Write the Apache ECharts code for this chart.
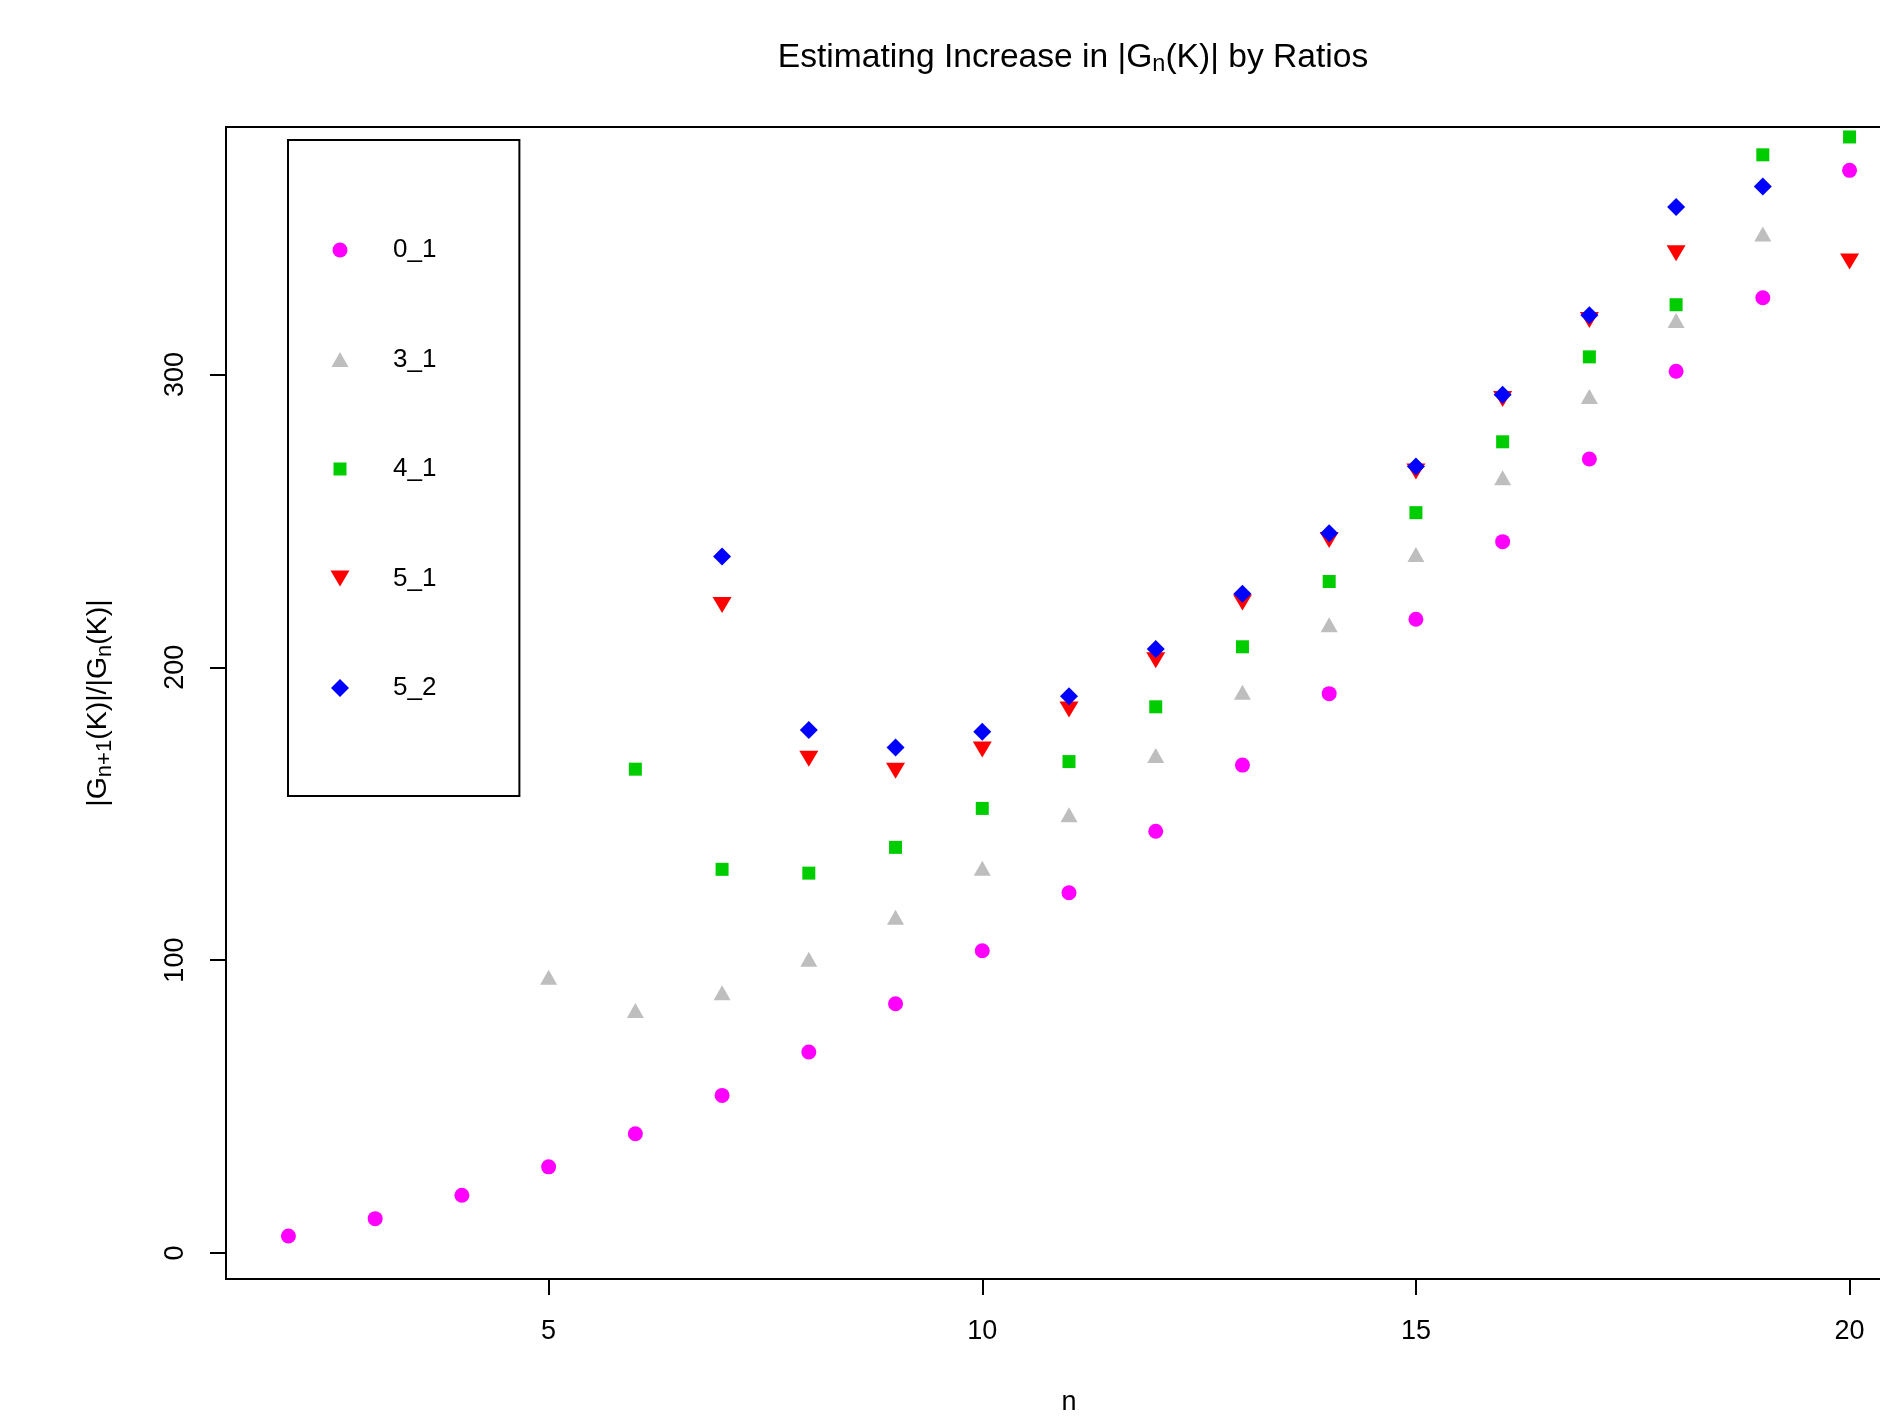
<!DOCTYPE html>
<html>
<head>
<title>Estimating Increase in |Gn(K)| by Ratios</title>
<meta charset="UTF-8">
<script src="https://cdn.jsdelivr.net/npm/echarts@6/dist/echarts.min.js"></script>
<style>
html, body { margin: 0; padding: 0; background: #fff; }
#chart { width: 1880px; height: 1418px; }
</style>
</head>
<body>
<div id="chart"></div>
<script>
// n = 2..20, one value per n (null = not plotted)
var nValues = [2, 3, 4, 5, 6, 7, 8, 9, 10, 11, 12, 13, 14, 15, 16, 17, 18, 19, 20];
var knot01 = [5.8, 11.7, 19.7, 29.4, 40.7, 53.8, 68.6, 85.1, 103.2, 123, 144, 166.6, 191, 216.4, 242.9, 271.1, 301.1, 326.2, 369.7];
var knot31 = [null, null, null, 93.3, 81.9, 88, 99.4, 113.8, 130.5, 148.8, 169, 190.6, 213.7, 237.7, 263.9, 291.6, 317.6, 347.1, null];
var knot41 = [null, null, null, null, 165.2, 131, 129.7, 138.5, 151.8, 167.8, 186.5, 207, 229.3, 252.8, 277, 306, 323.8, 375, 381.1];
var knot51 = [null, null, null, null, null, 222.2, 169.7, 165.6, 172.8, 186.5, 203.3, 223, 244.4, 267.8, 292.5, 319.5, 342.3, null, 339.5];
var knot52 = [null, null, null, null, null, 237.8, 178.6, 172.6, 178, 190.1, 206.2, 225.1, 245.8, 268.6, 293.1, 320.2, 357.2, 364.2, null];
var knotNames = ['0_1', '3_1', '4_1', '5_1', '5_2'];
var xTicks = [5, 10, 15, 20];
var yTicks = [0, 100, 200, 300];

var font = 'Liberation Sans, Arial, Helvetica, sans-serif';

// legend icons drawn in a fixed 20x20 frame so each keeps its plot size
var legendIcons = [
  'path://M0,0M20,20M2.5,10A7.5,7.5,0,1,0,17.5,10A7.5,7.5,0,1,0,2.5,10Z',
  'path://M0,0M20,20M10,2.5L18.5,17.5L1.5,17.5Z',
  'path://M0,0M20,20M3.5,3.5L16.5,3.5L16.5,16.5L3.5,16.5Z',
  'path://M0,0M20,20M0.5,2L19.5,2L10,18Z',
  'path://M0,0M20,20M10,1L19,10L10,19L1,10Z'
];

function pairs(vals) {
  var out = [];
  for (var i = 0; i < nValues.length; i++) {
    if (vals[i] !== null) out.push([nValues[i], vals[i]]);
  }
  return out;
}

var chart = echarts.init(document.getElementById('chart'));

function sSeries(name, vals, symbol, size, color, offset) {
  return {
    name: name,
    type: 'scatter',
    data: pairs(vals),
    symbol: symbol,
    symbolSize: size,
    symbolOffset: offset || [0, 0],
    itemStyle: { color: color, opacity: 1 },
    emphasis: { disabled: true },
    animation: false
  };
}

var legendData = knotNames.map(function (name, i) {
  return { name: name, icon: legendIcons[i] };
});

var option = {
  backgroundColor: '#ffffff',
  animation: false,
  title: {
    text: '{a|Estimating Increase in |G}{s|n}{a|(K)| by Ratios}',
    left: 1068,
    top: 34,
    textAlign: 'center',
    textStyle: {
      fontWeight: 'normal',
      rich: {
        a: { fontFamily: font, fontSize: 33.6, fontWeight: 'normal', color: '#000' },
        s: { fontFamily: font, fontSize: 23.5, fontWeight: 'normal', color: '#000', padding: [14, 0, 0, 0] }
      }
    }
  },
  legend: {
    left: 288,
    top: 140,
    orient: 'vertical',
    data: legendData,
    padding: [95, 83, 93, 42],
    itemGap: 79.5,
    itemWidth: 20,
    itemHeight: 20,
    borderColor: '#000',
    borderWidth: 2,
    borderRadius: 0,
    selectedMode: false,
    formatter: '{g|}{t|{name}}',
    textStyle: {
      lineHeight: 30,
      rich: {
        g: { width: 38 },
        t: { fontFamily: font, fontSize: 26, color: '#000' }
      }
    }
  },
  grid: {
    left: 226,
    top: 127,
    bottom: 139,
    right: -32,
    outerBoundsMode: 'none',
    containLabel: false,
    show: true,
    borderColor: '#000',
    borderWidth: 2,
    backgroundColor: 'transparent'
  },
  xAxis: {
    type: 'value',
    min: 1.28,
    max: 20.72,
    name: 'n',
    nameLocation: 'middle',
    nameGap: 110,
    nameTextStyle: { fontFamily: font, fontSize: 27, color: '#000' },
    axisLine: { show: false, onZero: false },
    splitLine: { show: false },
    axisTick: {
      show: true,
      inside: false,
      length: 16,
      customValues: xTicks,
      lineStyle: { color: '#000', width: 2 }
    },
    axisLabel: {
      customValues: xTicks,
      margin: 39,
      fontFamily: font,
      fontSize: 27,
      color: '#000'
    }
  },
  yAxis: {
    type: 'value',
    min: -8.9,
    max: 384.5,
    name: '{a||G}{s|n+1}{a|(K)|/|G}{s|n}{a|(K)|}',
    nameLocation: 'middle',
    nameRotate: 90,
    nameGap: 110,
    nameTextStyle: {
      rich: {
        a: { fontFamily: font, fontSize: 28.5, color: '#000' },
        s: { fontFamily: font, fontSize: 22, color: '#000', padding: [13, 0, 0, 0] }
      }
    },
    axisLine: { show: false, onZero: false },
    splitLine: { show: false },
    axisTick: {
      show: true,
      inside: false,
      length: 16,
      customValues: yTicks,
      lineStyle: { color: '#000', width: 2 }
    },
    axisLabel: {
      customValues: yTicks,
      rotate: 90,
      margin: 37,
      fontFamily: font,
      fontSize: 27,
      color: '#000'
    }
  },
  series: [
    sSeries('0_1', knot01, 'circle', 15, '#FF00FF'),
    sSeries('3_1', knot31, 'triangle', [17, 15], '#BEBEBE', [0, -2.5]),
    sSeries('4_1', knot41, 'rect', 13, '#00CD00'),
    sSeries('5_1', knot51, 'path://M0,0L2,0L1,1.732Z', [19, 16], '#FF0000', [0, 2.7]),
    sSeries('5_2', knot52, 'diamond', [18, 18], '#0000FF')
  ]
};

chart.setOption(option);
</script>
</body>
</html>
